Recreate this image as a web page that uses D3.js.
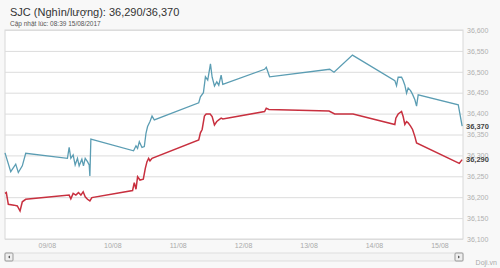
<!DOCTYPE html>
<html>
<head>
<meta charset="utf-8">
<script src="https://cdn.jsdelivr.net/npm/d3@7"></script>
<style>
  body { margin: 0; background: #f8f8f8; }
  svg { display: block; font-family: "Liberation Sans", Arial, sans-serif; }
</style>
</head>
<body>
<div id="chart"></div>
<script>
// gia ban (sell) - blue line
const sellPoints = [
  ["08/08 08:39", 36306], ["08/08 10:45", 36261], ["08/08 12:35", 36279], ["08/08 13:32", 36259],
  ["08/08 15:00", 36275], ["08/08 16:15", 36305], ["09/08 07:33", 36293], ["09/08 08:11", 36319],
  ["09/08 08:48", 36293], ["09/08 09:39", 36301], ["09/08 10:23", 36277], ["09/08 11:14", 36293],
  ["09/08 11:51", 36275], ["09/08 12:51", 36291], ["09/08 13:26", 36275], ["09/08 14:04", 36293],
  ["09/08 14:54", 36285], ["09/08 15:32", 36277], ["09/08 15:47", 36251], ["09/08 16:09", 36339],
  ["10/08 07:49", 36311], ["10/08 08:42", 36323], ["10/08 09:17", 36317], ["10/08 09:55", 36333],
  ["10/08 10:54", 36319], ["10/08 11:45", 36321], ["10/08 12:22", 36353], ["10/08 12:57", 36369],
  ["10/08 13:50", 36381], ["10/08 14:35", 36394], ["10/08 15:25", 36385], ["11/08 07:43", 36426],
  ["11/08 08:20", 36440], ["11/08 09:26", 36450], ["11/08 10:10", 36488], ["11/08 11:01", 36480],
  ["11/08 12:01", 36519], ["11/08 12:38", 36487], ["11/08 13:29", 36466], ["11/08 14:20", 36476],
  ["11/08 15:04", 36468], ["11/08 15:56", 36492], ["11/08 16:32", 36470], ["12/08 07:52", 36506],
  ["12/08 08:29", 36511], ["12/08 09:04", 36500], ["12/08 09:42", 36488], ["13/08 07:45", 36506],
  ["13/08 09:20", 36499], ["13/08 16:06", 36540], ["14/08 07:39", 36479], ["14/08 08:16", 36467],
  ["14/08 08:52", 36487], ["14/08 10:07", 36487], ["14/08 10:42", 36479], ["14/08 11:19", 36468],
  ["14/08 11:57", 36449], ["14/08 12:32", 36461], ["14/08 13:25", 36455], ["14/08 14:09", 36446],
  ["14/08 15:00", 36433], ["14/08 15:37", 36418], ["14/08 16:13", 36445], ["15/08 06:55", 36421],
  ["15/08 08:20", 36370]
];

// gia mua (buy) - red line
const buyPoints = [
  ["08/08 08:39", 36209], ["08/08 09:08", 36211], ["08/08 09:52", 36183], ["08/08 11:58", 36181],
  ["08/08 13:10", 36179], ["08/08 14:10", 36167], ["08/08 15:00", 36189], ["08/08 16:15", 36195],
  ["09/08 08:11", 36205], ["09/08 08:48", 36196], ["09/08 09:39", 36209], ["09/08 10:38", 36205],
  ["09/08 11:36", 36211], ["09/08 12:29", 36205], ["09/08 13:19", 36213], ["09/08 14:04", 36201],
  ["09/08 14:54", 36195], ["09/08 15:47", 36191], ["09/08 16:31", 36199], ["10/08 07:27", 36216],
  ["10/08 08:04", 36235], ["10/08 08:42", 36219], ["10/08 09:17", 36249], ["10/08 10:10", 36241],
  ["10/08 11:23", 36243], ["10/08 12:07", 36269], ["10/08 12:44", 36285], ["10/08 13:20", 36293],
  ["10/08 13:50", 36287], ["10/08 14:35", 36293], ["11/08 07:43", 36337], ["11/08 08:20", 36354],
  ["11/08 08:58", 36362], ["11/08 09:48", 36394], ["11/08 10:26", 36399], ["11/08 11:54", 36399],
  ["11/08 12:38", 36393], ["11/08 13:29", 36373], ["11/08 14:20", 36381], ["11/08 15:04", 36385],
  ["11/08 15:56", 36389], ["11/08 16:32", 36387], ["12/08 07:52", 36405], ["12/08 08:29", 36413],
  ["12/08 09:26", 36410], ["13/08 07:30", 36406], ["13/08 09:35", 36399], ["13/08 16:19", 36399],
  ["14/08 07:39", 36374], ["14/08 08:01", 36389], ["14/08 08:52", 36399], ["14/08 10:07", 36405],
  ["14/08 10:42", 36393], ["14/08 11:19", 36374], ["14/08 11:57", 36381], ["14/08 12:32", 36378],
  ["14/08 13:25", 36370], ["14/08 14:09", 36362], ["14/08 15:00", 36345], ["14/08 15:37", 36330],
  ["15/08 07:17", 36281], ["15/08 08:20", 36290]
];

const dayTicks = ["09/08", "10/08", "11/08", "12/08", "13/08", "14/08", "15/08"];
const yTicks = [36100, 36150, 36200, 36250, 36300, 36350, 36400, 36450, 36500, 36550, 36600];
const timeRange = ["08/08 08:39", "15/08 08:39"];
const currentBuy = 36290, currentSell = 36370;

const W = 500, H = 268;
const margin = {top: 30, right: 37, bottom: 29, left: 5};
const parse = d3.timeParse("%d/%m %H:%M");
const fmtNum = d3.format(",");

const svg = d3.select("#chart").append("svg")
  .attr("width", W).attr("height", H);

// title
svg.append("text").attr("x", 10).attr("y", 16)
  .attr("font-size", 11).attr("fill", "#333")
  .text(`SJC (Nghìn/lượng): ${fmtNum(currentBuy)}/${fmtNum(currentSell)}`);
svg.append("text").attr("x", 10).attr("y", 26)
  .attr("font-size", 6.5).attr("fill", "#555")
  .text("Cập nhật lúc: 08:39 15/08/2017");

const x = d3.scaleTime()
  .domain(timeRange.map(parse))
  .range([margin.left, W - margin.right]);
const y = d3.scaleLinear()
  .domain([36100, 36600])
  .range([H - margin.bottom, margin.top]);

// plot background
svg.append("rect")
  .attr("x", margin.left).attr("y", margin.top)
  .attr("width", W - margin.left - margin.right)
  .attr("height", H - margin.top - margin.bottom)
  .attr("fill", "#fff").attr("stroke", "#d8d8d8");

// horizontal grid + right axis
const yAxis = svg.append("g")
  .attr("transform", `translate(${W - margin.right},0)`)
  .call(d3.axisRight(y).tickValues(yTicks).tickFormat(fmtNum)
    .tickSize(-(W - margin.left - margin.right)).tickPadding(4));
yAxis.select(".domain").remove();
yAxis.selectAll(".tick line").attr("stroke", "#dcdcdc");
yAxis.selectAll(".tick text").attr("fill", "#b0b0b0").attr("font-size", 7);

// bottom axis labels
const xAxis = svg.append("g")
  .attr("transform", `translate(0,${H - margin.bottom})`)
  .call(d3.axisBottom(x).tickValues(dayTicks.map(d => parse(d + " 00:00")))
    .tickFormat(d3.timeFormat("%d/%m")).tickSize(0).tickPadding(4));
xAxis.select(".domain").remove();
xAxis.selectAll(".tick text").attr("fill", "#aaa").attr("font-size", 7);

const line = d3.line()
  .x(d => x(parse(d[0])))
  .y(d => y(d[1]));

svg.append("path").datum(sellPoints)
  .attr("d", line).attr("fill", "none")
  .attr("stroke", "#5b9db3").attr("stroke-width", 1.3);
svg.append("path").datum(buyPoints)
  .attr("d", line).attr("fill", "none")
  .attr("stroke", "#c8303f").attr("stroke-width", 1.5);

// current value labels (drawn over the tick labels, like the original)
[currentSell, currentBuy].forEach(v => {
  svg.append("text").attr("x", W - margin.right + 3).attr("y", y(v) + 2.5)
    .attr("font-size", 7.5).attr("font-weight", "bold").attr("fill", "#444")
    .text(fmtNum(v));
});

// scrollbar
const sbY = 253;
svg.append("rect").attr("x", margin.left).attr("y", sbY)
  .attr("width", W - margin.left - margin.right).attr("height", 8)
  .attr("fill", "#f4f4f4").attr("stroke", "#ddd");
[margin.left, W - margin.right - 8].forEach((bx, i) => {
  svg.append("rect").attr("x", bx).attr("y", sbY).attr("width", 8).attr("height", 8)
    .attr("fill", "#eee").attr("stroke", "#999").attr("rx", 1);
  svg.append("path")
    .attr("d", i === 0
      ? `M${bx + 5},${sbY + 2.5}L${bx + 3},${sbY + 4}L${bx + 5},${sbY + 5.5}Z`
      : `M${bx + 3},${sbY + 2.5}L${bx + 5},${sbY + 4}L${bx + 3},${sbY + 5.5}Z`)
    .attr("fill", "#555");
});

svg.append("text").attr("x", 497).attr("y", 265).attr("text-anchor", "end")
  .attr("font-size", 7).attr("fill", "#aaa").text("Doji.vn");
</script>
</body>
</html>
